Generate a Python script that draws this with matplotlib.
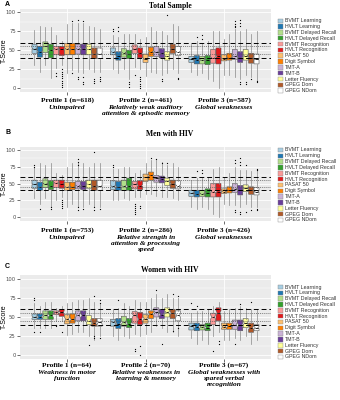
import numpy as np
import matplotlib
matplotlib.use("Agg")
from matplotlib import pyplot as plt
from matplotlib.patches import Rectangle

W, H = 340, 400

tests = ["BVMT Learning", "HVLT Learning", "BVMT Delayed Recall", "HVLT Delayed Recall",
         "BVMT Recognition", "HVLT Recognition", "PASAT 50", "Digit Symbol", "TMT-A",
         "TMT-B", "Letter Fluency", "GPEG Dom", "GPEG NDom"]
colors = ["#A6CEE3", "#1F78B4", "#B2DF8A", "#33A02C", "#FB9A99", "#E31A1C", "#FDBF6F",
          "#FF7F00", "#CAB2D6", "#6A3D9A", "#FFFF99", "#B15928", "#FFFFFF"]

# ---- Panel A: Total Sample ----
a_title = "Total Sample"
a_profiles = ["Profile 1 (n=618)", "Profile 2 (n=461)", "Profile 3 (n=587)"]
a_subs = ["Unimpaired", "Relatively weak auditory\nattention & episodic memory", "Global weaknesses"]
a_n = [618, 461, 587]
a_q1 = [[46, 41, 47, 40, 44, 43, 44, 44, 45, 44, 44, 39, 39],
        [44, 37, 41, 39, 46, 40, 34, 42, 42, 40, 37, 46, 43],
        [34, 32, 32, 31, 33, 32, 36, 37, 38, 34, 37, 33, 32]]
a_med = [[52, 48, 55, 50, 52, 51, 52, 51, 52, 52, 51, 45, 45],
         [48, 42, 47, 45, 52, 46, 39, 48, 48, 46, 42, 52, 48],
         [38, 37, 37, 37, 40, 42, 39, 40, 42, 40, 43, 40, 38]]
a_q3 = [[58, 55, 61, 58, 55, 55, 59, 59, 58, 58, 58, 53, 53],
        [53, 48, 52, 50, 57, 53, 45, 54, 55, 52, 48, 58, 55],
        [42, 43, 42, 43, 51, 53, 44, 46, 51, 48, 51, 46, 45]]
a_lo = [[30, 22, 30, 14, 26, 30, 20, 24, 22, 20, 25, 22, 22],
        [25, 20, 25, 12, 28, 25, 16, 22, 20, 18, 20, 25, 20],
        [22, 18, 20, 12, 10, 0, 18, 18, 15, 12, 18, 15, 10]]
a_hi = [[77, 82, 80, 80, 70, 62, 84, 86, 86, 86, 82, 80, 78],
        [70, 68, 72, 72, 72, 65, 68, 80, 76, 75, 70, 85, 82],
        [58, 62, 60, 62, 75, 75, 65, 72, 78, 75, 78, 72, 75]]
a_fl = [[[], [], [], [], [20, 16], [25, 22, 19, 16, 13, 10, 7, 4, 1], [], [20, 88],
         [15, 12, 90], [15, 8, 5, 88], [], [12, 9, 7], [15, 12, 10]],
        [[75, 78], [80, 76], [], [8, 5, 2], [18], [15, 12, 9, 6, 3, 0], [], [],
         [], [12, 10], [97], [], [14, 12]],
        [[], [68], [70, 65], [], [], [], [], [],
         [88, 85, 82, 80], [90, 86, 82, 8, 5], [8, 5], [12], [10, 8]]]

# ---- Panel B: Men with HIV ----
b_title = "Men with HIV"
b_profiles = ["Profile 1 (n=753)", "Profile 2 (n=286)", "Profile 3 (n=426)"]
b_subs = ["Unimpaired", "Relative strength in\nattention & processing\nspeed", "Global weaknesses"]
b_n = [753, 286, 426]
b_q1 = [[43, 40, 44, 41, 44, 43, 40, 41, 42, 41, 43, 40, 40],
        [41, 40, 40, 40, 42, 41, 53, 55, 52, 51, 47, 43, 42],
        [31, 30, 31, 30, 30, 30, 35, 36, 37, 33, 38, 34, 33]]
b_med = [[49, 45, 50, 46, 51, 50, 45, 45, 47, 47, 49, 46, 46],
         [46, 45, 46, 46, 49, 47, 59, 62, 58, 56, 53, 50, 47],
         [36, 34, 35, 36, 38, 38, 38, 40, 42, 40, 43, 40, 38]]
b_q3 = [[55, 52, 57, 54, 55, 55, 52, 52, 53, 53, 55, 55, 55],
        [54, 53, 55, 58, 53, 54, 64, 67, 62, 61, 58, 55, 54],
        [40, 40, 40, 42, 50, 50, 42, 45, 50, 47, 48, 45, 44]]
b_lo = [[28, 20, 28, 15, 25, 30, 15, 20, 15, 15, 20, 15, 15],
        [25, 25, 28, 25, 30, 30, 35, 35, 32, 30, 30, 28, 25],
        [15, 12, 15, 12, 5, 0, 20, 18, 18, 15, 20, 15, 15]]
b_hi = [[75, 80, 78, 80, 65, 62, 74, 80, 82, 80, 75, 80, 80],
        [72, 72, 75, 75, 65, 70, 80, 85, 85, 82, 78, 80, 75],
        [55, 58, 58, 60, 72, 75, 60, 65, 75, 70, 70, 68, 70]]
b_fl = [[[78, 75], [12], [], [12, 15], [], [25, 22, 19, 16, 13], [], [],
         [86, 82, 78, 15, 10], [12], [], [97, 15, 10], [12]],
        [[77, 75], [], [], [], [20, 17, 14, 11, 8, 5], [16, 13], [], [88],
         [87], [80], [80], [], []],
        [[], [68], [70, 65], [], [], [], [], [],
         [85, 80, 10, 8], [88, 82, 78, 8, 5], [78, 8], [10], [72, 70, 12, 10]]]

# ---- Panel C: Women with HIV ----
c_title = "Women with HIV"
c_profiles = ["Profile 1 (n=64)", "Profile 2 (n=70)", "Profile 3 (n=67)"]
c_subs = ["Weakness in motor\nfunction", "Relative weaknesses in\nlearning & memory",
          "Global weaknesses with\nspared verbal\nrecognition"]
c_n = [64, 70, 67]
c_q1 = [[47, 47, 47, 47, 53, 51, 41, 42, 45, 45, 40, 38, 38],
        [38, 35, 38, 36, 42, 40, 42, 48, 50, 48, 50, 48, 45],
        [33, 32, 33, 32, 40, 45, 34, 34, 34, 32, 36, 30, 32]]
c_med = [[50, 50, 52, 52, 56, 56, 47, 47, 52, 52, 45, 42, 43],
         [44, 41, 43, 41, 52, 47, 48, 54, 56, 53, 56, 55, 52],
         [38, 37, 37, 36, 50, 55, 37, 38, 40, 39, 42, 36, 36]]
c_q3 = [[54, 54, 58, 58, 58, 60, 53, 54, 58, 58, 52, 48, 48],
        [47, 48, 51, 48, 57, 56, 53, 58, 62, 60, 62, 60, 58],
        [42, 42, 40, 42, 55, 62, 42, 42, 46, 46, 48, 42, 40]]
c_lo = [[35, 35, 35, 35, 45, 45, 27, 28, 30, 30, 25, 20, 25],
        [25, 20, 25, 22, 28, 25, 28, 30, 38, 35, 30, 30, 25],
        [22, 15, 20, 15, 25, 30, 20, 20, 22, 20, 25, 15, 20]]
c_hi = [[68, 65, 70, 70, 62, 65, 68, 70, 72, 72, 75, 70, 68],
        [60, 62, 68, 65, 72, 70, 70, 75, 80, 75, 80, 75, 75],
        [55, 58, 58, 60, 65, 70, 58, 60, 62, 65, 62, 60, 60]]
c_fl = [[[75, 72, 30], [30], [], [], [40, 38], [30], [], [], [], [],
         [13], [25, 22, 78], [72, 68, 22]],
        [[], [72], [], [], [8, 5], [12, 0], [], [], [85], [15], [], [80, 32], [78, 35]],
        [[68], [65], [], [], [5], [18, 15], [], [], [15], [67], [], [70], []]]

panels = [
    ("A", a_title, a_profiles, a_subs, a_n, a_q1, a_med, a_q3, a_lo, a_hi, a_fl),
    ("B", b_title, b_profiles, b_subs, b_n, b_q1, b_med, b_q3, b_lo, b_hi, b_fl),
    ("C", c_title, c_profiles, c_subs, c_n, c_q1, c_med, c_q3, c_lo, c_hi, c_fl),
]

# pixel layout: (letter y, title y, axes top, axes bottom, label y, legend top)
layout = [(4, 6, 8.5, 92, 100, 20.7),
          (132, 134, 146.5, 220.5, 230, 150),
          (267, 270, 275, 359, 365, 287)]
AX_L, AX_R = 20, 271

serif = "Liberation Serif"
sans = "Liberation Sans"

fig = plt.figure(figsize=(W / 100, H / 100), dpi=100)

dodge = 0.9 / len(tests)
for (letter, title, profs, subs, ns, q1, med, q3, lo, hi, fl), lay in zip(panels, layout):
    ly, ty, top, bot, laby, legtop = lay
    ax = fig.add_axes([AX_L / W, 1 - bot / H, (AX_R - AX_L) / W, (bot - top) / H])
    ax.set_facecolor("#EBEBEB")
    for s in ax.spines.values():
        s.set_visible(False)
    ax.set_xlim(0.4, 3.6)
    ax.set_ylim(-5, 105)
    ax.set_yticks([0, 25, 50, 75, 100])
    ax.set_yticks([12.5, 37.5, 62.5, 87.5], minor=True)
    ax.set_xticks([1, 2, 3])
    ax.set_xticklabels([])
    ax.grid(True, which="major", color="white", lw=0.6, zorder=0)
    ax.grid(True, which="minor", axis="y", color="white", lw=0.3, zorder=0)
    ax.set_axisbelow(True)
    ax.tick_params(which="major", length=2, width=0.5, color="#333333",
                   labelsize=3.8, labelcolor="#4D4D4D", pad=1)
    ax.tick_params(which="minor", length=0)
    ax.set_ylabel("T-Score", fontsize=5, family=sans)
    ax.yaxis.set_label_coords(-12 / (AX_R - AX_L), 0.5)

    for p in range(3):
        stats = []
        for j in range(len(tests)):
            iqr = q3[p][j] - q1[p][j]
            ci = 1.58 * iqr / np.sqrt(ns[p])
            stats.append(dict(med=med[p][j], q1=q1[p][j], q3=q3[p][j],
                              whislo=lo[p][j], whishi=hi[p][j], fliers=fl[p][j],
                              cilo=med[p][j] - ci, cihi=med[p][j] + ci))
        pos = [p + 1 + (j - 6) * dodge for j in range(len(tests))]
        bp = ax.bxp(stats, positions=pos, widths=dodge * 0.92, patch_artist=True,
                    shownotches=True, showcaps=False, manage_ticks=False,
                    boxprops=dict(edgecolor="#555555", lw=0.4),
                    whiskerprops=dict(color="#888888", lw=0.5),
                    medianprops=dict(color="black", lw=0.6),
                    flierprops=dict(marker="o", ms=0.9, mfc="black", mec="black", mew=0))
        for patch, col in zip(bp["boxes"], colors):
            patch.set_facecolor(col)

    for yv in (40, 60):
        ax.axhline(yv, color="black", lw=0.7, ls=(0, (5, 3)), zorder=4)
    for yv in (45, 55):
        ax.axhline(yv, color="#555555", lw=0.5, ls=(0, (1.5, 1.5)), zorder=4)

    fig.text(5 / W, 1 - ly / H, letter, fontsize=5, family=sans, weight="bold",
             ha="left", va="center")
    fig.text(0.5, 1 - ty / H, title, fontsize=5.5, family=serif, weight="bold",
             ha="center", va="center")

    for p in range(3):
        xc = AX_L + (p + 1 - 0.4) / 3.2 * (AX_R - AX_L)
        fig.text(xc / W, 1 - laby / H, profs[p], fontsize=5.3, family=serif,
                 weight="bold", ha="center", va="center")
        fig.text(xc / W, 1 - (laby + 5) / H, subs[p], fontsize=5.3, family=serif,
                 weight="bold", style="italic", ha="center", va="top", linespacing=1.25)

    # legend
    step = 5.83
    for j, (name, col) in enumerate(zip(tests, colors)):
        yc = legtop + j * step
        fig.patches.append(Rectangle(((AX_R + 7) / W, 1 - (yc + 2.2) / H), 4.5 / W, 4.4 / H,
                                     transform=fig.transFigure, facecolor=col,
                                     edgecolor="#888888", lw=0.3))
        fig.text((AX_R + 14) / W, 1 - yc / H, name, fontsize=3.8, family=sans,
                 color="#333333", ha="left", va="center")

fig.savefig("out.png", dpi=100)
plt.close()
